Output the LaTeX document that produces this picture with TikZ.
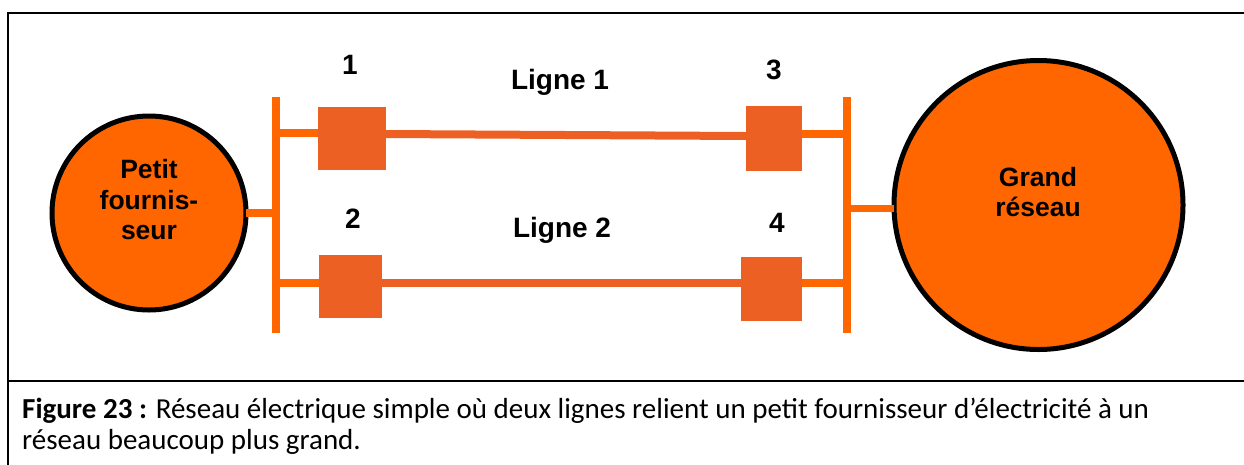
\documentclass[tikz,border=0pt]{standalone}
\usepackage{fontspec}
\setmainfont{Liberation Sans}
\newfontfamily\capfont{Carlito}
\definecolor{orc}{HTML}{FF6600}
\definecolor{obox}{RGB}{236,96,36}
\begin{document}
\begin{tikzpicture}[x=1pt,y=-1pt,
  busline/.style={draw=orc,line width=8pt},
  stub/.style={draw=orc,line width=7.5pt},
  tline/.style={draw=obox,line width=8pt},
  sbox/.style={fill=obox,inner sep=0pt,outer sep=0pt},
  gen/.style={circle,draw=black,line width=5pt,fill=orc,inner sep=0pt,outer sep=0pt},
  numlab/.style={font=\fontsize{28}{30}\selectfont\bfseries,inner sep=0pt},
  gentext/.style={font=\fontsize{26.5}{30.5}\selectfont\bfseries,align=center,inner sep=0pt},
  captext/.style={font=\capfont\fontsize{29}{31}\selectfont,anchor=base west,inner sep=0pt}]
\useasboundingbox (0,0) rectangle (1244,464);
\clip (0,0) rectangle (1244,464);
% frame
\draw[line width=2pt] (8,13) rectangle (1254,480);
\draw[line width=2pt] (8,381) -- (1254,381);
% generators
\node[gen,minimum size=194pt] (c1) at (149,213) {};
\node[gen,minimum size=289pt] (c2) at (1038.5,205) {};
\node[gentext] (c1t) at (149,200) {Petit\\fournis-\\seur};
\node[gentext] (c2t) at (1038,192) {Grand\\réseau};
% buses
\coordinate (bus1a) at (276,97);
\coordinate (bus1b) at (276,333);
\coordinate (bus2a) at (847,97);
\coordinate (bus2b) at (847,333);
\draw[busline] (bus1a) -- (bus1b);
\draw[busline] (bus2a) -- (bus2b);
% boxes
\node[sbox,minimum width=68pt,minimum height=63pt] (b1) at (352,138.5) {};
\node[sbox,minimum width=63pt,minimum height=63pt] (b2) at (350.5,286.5) {};
\node[sbox,minimum width=56pt,minimum height=65pt] (b3) at (774,138.5) {};
\node[sbox,minimum width=61pt,minimum height=64pt] (b4) at (771.5,289) {};
% tap points on buses
\coordinate (t1) at (276,133);
\coordinate (t2) at (276,283);
\coordinate (t3) at (847,134);
\coordinate (t4) at (847,283);
\coordinate (t5) at (847,208.5);
% stubs
\draw[stub] (c1.east) -- (c1.east -| bus1a);
\draw[stub] (t1) -- (t1 -| b1.west);
\draw[stub] (t2) -- (t2 -| b2.west);
\draw[stub] (t3 -| b3.east) -- (t3);
\draw[stub] (t4 -| b4.east) -- (t4);
\draw[stub] (t5) -- (t5 -| c2.west);
% lines
\draw[tline] ([yshift=4.5pt]b1.east) -- ([yshift=2.5pt]b3.west);
\draw[tline] ([yshift=3.5pt]b2.east) -- ([yshift=6pt]b4.west);
% labels
\node[numlab] (n1) at (350,65) {1};
\node[numlab] (n2) at (353,219) {2};
\node[numlab] (n3) at (774,70) {3};
\node[numlab] (n4) at (777,223) {4};
\node[numlab] (l1) at (560,82) {Ligne 1};
\node[numlab] (l2) at (562,230) {Ligne 2};
% caption
\node[captext] (cap1) at (22,418) {\textbf{Figure 23 :} Réseau électrique simple où deux lignes relient un petit fournisseur d’électricité à un};
\node[captext] (cap2) at (22,449) {réseau beaucoup plus grand.};
\end{tikzpicture}
\end{document}
